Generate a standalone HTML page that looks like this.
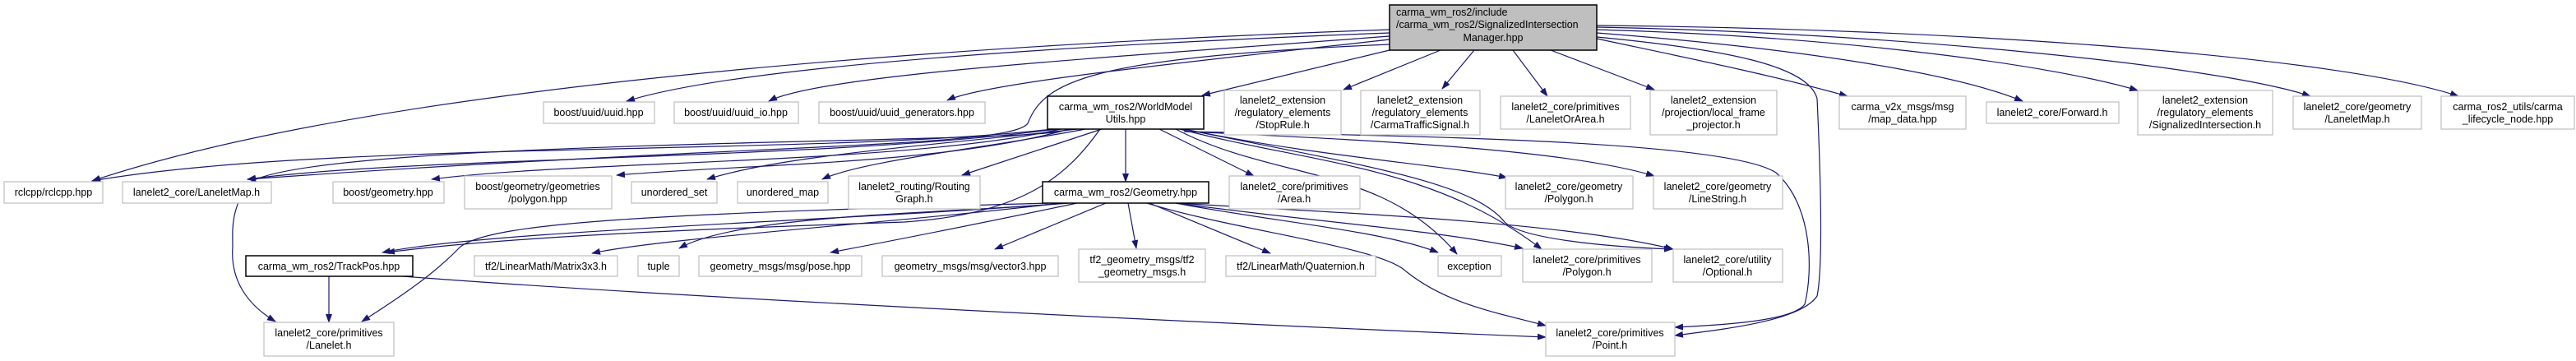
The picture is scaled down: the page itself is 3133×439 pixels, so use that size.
<!DOCTYPE html>
<html><head><meta charset="utf-8"><style>
html,body{margin:0;padding:0;background:#fff;}
svg{display:block;}
text{font-family:"Liberation Sans",Arial,sans-serif;font-size:12.5px;fill:#000;}
.e{fill:none;stroke:#191970;stroke-width:1.2;}
.n{fill:#fff;stroke:#bfbfbf;stroke-width:1.2;}
.b{fill:#fff;stroke:#000;stroke-width:1.5;}
.m{fill:#bfbfbf;stroke:#000;stroke-width:1.5;}
</style></head><body>
<svg width="3133" height="439" viewBox="0 0 3133 439" xmlns="http://www.w3.org/2000/svg">
<defs><marker id="a" markerWidth="11" markerHeight="8" refX="10" refY="4" orient="auto" markerUnits="userSpaceOnUse"><path d="M0,0 L11,4 L0,8 z" fill="#191970"/></marker></defs>
<g class="e" marker-end="url(#a)">
<!-- main -->
<path d="M1690,36 C1300,50 500,90 112,220"/>
<path d="M1690,40 C1300,55 900,80 762,123"/>
<path d="M1690,44 C1350,70 1000,90 935,123"/>
<path d="M1690,48 C1450,75 1200,100 1152,122"/>
<path d="M1690,54 C1320,70 1270,100 1250,150 C1230,180 900,175 301,218"/>
<path d="M1690,61 L1462,116"/>
<path d="M1752,61 L1634,109"/>
<path d="M1793,61 L1754,108"/>
<path d="M1840,61 L1882,117"/>
<path d="M1886,61 L2012,109"/>
<path d="M1942,47 C2050,70 2150,90 2247,117"/>
<path d="M1942,40 C2200,60 2380,90 2460,123"/>
<path d="M1942,36 C2250,45 2500,80 2600,110"/>
<path d="M1942,33 C2300,40 2700,80 2810,117"/>
<path d="M1942,31 C2400,35 2850,70 2990,117"/>
<path d="M1942,45 C2100,60 2200,80 2210,120 C2216,250 2216,330 2210,360 C2190,390 2100,400 2037,408"/>
<!-- WMU -->
<path d="M1280,157 C1000,190 400,170 112,220"/>
<path d="M1285,157 C1000,195 500,190 301,218"/>
<path d="M1290,157 C1100,200 700,195 525,218"/>
<path d="M1300,157 C1150,200 900,200 750,213"/>
<path d="M1310,157 C1100,180 950,190 860,218"/>
<path d="M1320,157 C1200,180 1050,195 1000,218"/>
<path d="M1340,157 L1170,213"/>
<path d="M1369,157 L1369,221"/>
<path d="M1410,157 L1525,214"/>
<path d="M1440,157 C1600,190 1750,200 1833,216"/>
<path d="M1445,160 C1650,170 1900,180 2012,214"/>
<path d="M1338,157 C1300,210 1250,260 1100,270 C800,280 600,290 470,307"/>
<path d="M1290,160 C1200,175 350,170 300,225 C280,260 283,280 283,300 C280,340 300,370 335,391"/>
<path d="M1430,157 C1550,220 1680,200 1772,309"/>
<path d="M1435,157 C1600,200 1740,200 1875,303"/>
<path d="M1440,157 C1650,200 1790,220 1830,270 C1850,290 1950,300 2034,303"/>
<path d="M1440,160 C1700,165 2100,170 2160,210 C2205,250 2205,330 2195,370 C2180,390 2100,395 2037,398"/>
<!-- Geometry -->
<path d="M1300,247 C1000,270 600,280 465,307"/>
<path d="M1290,247 C1100,270 800,290 720,308"/>
<path d="M1295,247 C1150,260 900,260 826,302"/>
<path d="M1310,247 C1200,270 1100,290 1010,307"/>
<path d="M1345,247 L1210,303"/>
<path d="M1372,247 L1382,302"/>
<path d="M1398,247 L1545,308"/>
<path d="M1430,247 C1550,270 1680,280 1749,307"/>
<path d="M1430,247 C1600,270 1750,280 1852,302"/>
<path d="M1430,247 C1650,260 1900,270 2035,303"/>
<path d="M1395,247 C1500,280 1680,300 1710,330 C1760,370 1820,380 1880,396"/>
<path d="M1275,247 C800,260 600,270 560,300 C540,320 520,340 440,391"/>
<!-- TrackPos -->
<path d="M400,336 L400,392"/>
<path d="M490,336 C800,360 1400,390 1880,410"/>
</g>
<!-- nodes -->
<rect class="m" x="1690" y="6" width="252" height="55"/>
<text x="1698" y="19">carma_wm_ros2/include</text>
<text x="1698" y="34">/carma_wm_ros2/SignalizedIntersection</text>
<text x="1816" y="50" text-anchor="middle">Manager.hpp</text>

<g text-anchor="middle">
<rect class="n" x="661" y="124" width="135" height="26"/><text x="728" y="141">boost/uuid/uuid.hpp</text>
<rect class="n" x="820" y="124" width="151" height="26"/><text x="895" y="141">boost/uuid/uuid_io.hpp</text>
<rect class="n" x="996" y="124" width="202" height="26"/><text x="1097" y="141">boost/uuid/uuid_generators.hpp</text>
<rect class="b" x="1274" y="117" width="190" height="40"/><text x="1369" y="134">carma_wm_ros2/WorldModel</text><text x="1369" y="149">Utils.hpp</text>
<rect class="n" x="1489" y="110" width="142" height="54"/><text x="1560" y="126">lanelet2_extension</text><text x="1560" y="141">/regulatory_elements</text><text x="1560" y="156">/StopRule.h</text>
<rect class="n" x="1655" y="110" width="145" height="54"/><text x="1727" y="126">lanelet2_extension</text><text x="1727" y="141">/regulatory_elements</text><text x="1727" y="156">/CarmaTrafficSignal.h</text>
<rect class="n" x="1825" y="117" width="158" height="40"/><text x="1904" y="134">lanelet2_core/primitives</text><text x="1904" y="149">/LaneletOrArea.h</text>
<rect class="n" x="2007" y="110" width="154" height="54"/><text x="2084" y="126">lanelet2_extension</text><text x="2084" y="141">/projection/local_frame</text><text x="2084" y="156">_projector.h</text>
<rect class="n" x="2237" y="117" width="154" height="40"/><text x="2314" y="134">carma_v2x_msgs/msg</text><text x="2314" y="149">/map_data.hpp</text>
<rect class="n" x="2416" y="124" width="161" height="26"/><text x="2496" y="141">lanelet2_core/Forward.h</text>
<rect class="n" x="2600" y="110" width="164" height="54"/><text x="2682" y="126">lanelet2_extension</text><text x="2682" y="141">/regulatory_elements</text><text x="2682" y="156">/SignalizedIntersection.h</text>
<rect class="n" x="2789" y="117" width="156" height="40"/><text x="2867" y="134">lanelet2_core/geometry</text><text x="2867" y="149">/LaneletMap.h</text>
<rect class="n" x="2969" y="117" width="162" height="40"/><text x="3050" y="134">carma_ros2_utils/carma</text><text x="3050" y="149">_lifecycle_node.hpp</text>

<rect class="n" x="5" y="221" width="120" height="26"/><text x="65" y="238">rclcpp/rclcpp.hpp</text>
<rect class="n" x="149" y="221" width="181" height="26"/><text x="239" y="238">lanelet2_core/LaneletMap.h</text>
<rect class="n" x="405" y="221" width="135" height="26"/><text x="472" y="238">boost/geometry.hpp</text>
<rect class="n" x="565" y="214" width="179" height="40"/><text x="654" y="231">boost/geometry/geometries</text><text x="654" y="246">/polygon.hpp</text>
<rect class="n" x="768" y="221" width="104" height="26"/><text x="820" y="238">unordered_set</text>
<rect class="n" x="897" y="221" width="110" height="26"/><text x="952" y="238">unordered_map</text>
<rect class="n" x="1032" y="214" width="160" height="40"/><text x="1112" y="231">lanelet2_routing/Routing</text><text x="1112" y="246">Graph.h</text>
<rect class="b" x="1268" y="221" width="202" height="26"/><text x="1369" y="238">carma_wm_ros2/Geometry.hpp</text>
<rect class="n" x="1495" y="214" width="159" height="40"/><text x="1574" y="231">lanelet2_core/primitives</text><text x="1574" y="246">/Area.h</text>
<rect class="n" x="1831" y="214" width="155" height="40"/><text x="1908" y="231">lanelet2_core/geometry</text><text x="1908" y="246">/Polygon.h</text>
<rect class="n" x="2011" y="214" width="157" height="40"/><text x="2089" y="231">lanelet2_core/geometry</text><text x="2089" y="246">/LineString.h</text>

<rect class="b" x="299" y="311" width="203" height="25"/><text x="400" y="328">carma_wm_ros2/TrackPos.hpp</text>
<rect class="n" x="577" y="311" width="174" height="25"/><text x="664" y="328">tf2/LinearMath/Matrix3x3.h</text>
<rect class="n" x="776" y="311" width="50" height="25"/><text x="801" y="328">tuple</text>
<rect class="n" x="850" y="311" width="198" height="25"/><text x="949" y="328">geometry_msgs/msg/pose.hpp</text>
<rect class="n" x="1073" y="311" width="214" height="25"/><text x="1180" y="328">geometry_msgs/msg/vector3.hpp</text>
<rect class="n" x="1312" y="303" width="154" height="40"/><text x="1389" y="320">tf2_geometry_msgs/tf2</text><text x="1389" y="335">_geometry_msgs.h</text>
<rect class="n" x="1491" y="311" width="182" height="25"/><text x="1582" y="328">tf2/LinearMath/Quaternion.h</text>
<rect class="n" x="1749" y="311" width="77" height="25"/><text x="1787" y="328">exception</text>
<rect class="n" x="1852" y="303" width="157" height="40"/><text x="1930" y="320">lanelet2_core/primitives</text><text x="1930" y="335">/Polygon.h</text>
<rect class="n" x="2035" y="303" width="133" height="40"/><text x="2101" y="320">lanelet2_core/utility</text><text x="2101" y="335">/Optional.h</text>

<rect class="n" x="321" y="392" width="158" height="41"/><text x="400" y="409">lanelet2_core/primitives</text><text x="400" y="424">/Lanelet.h</text>
<rect class="n" x="1880" y="392" width="157" height="41"/><text x="1958" y="409">lanelet2_core/primitives</text><text x="1958" y="424">/Point.h</text>
</g>
</svg>
</body></html>
